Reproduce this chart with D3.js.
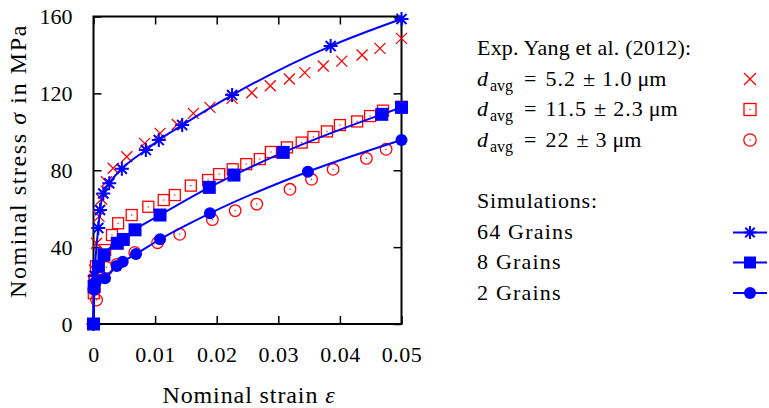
<!DOCTYPE html>
<html>
<head>
<meta charset="utf-8">
<script src="https://cdn.jsdelivr.net/npm/d3@7"></script>
<style>
  html, body { margin: 0; padding: 0; background: #fff; }
  svg text { font-family: "Liberation Serif", "DejaVu Serif", serif; fill: #000; }
</style>
</head>
<body>
<svg id="chart" width="769" height="408"></svg>
<script>
// Experimental data (Yang et al. 2012): nominal strain / nominal stress [MPa]
const expSmallStrain  = [0.0002, 0.0005, 0.0009, 0.0013, 0.0021, 0.0032, 0.0054, 0.0083, 0.0108, 0.0136, 0.0162, 0.0189, 0.0225, 0.0257, 0.0287, 0.0318, 0.0343, 0.0373, 0.0403, 0.0436, 0.0465, 0.05];
const expSmallStress  = [28, 42, 56, 65, 74, 81, 87, 94, 99.2, 103.8, 109.6, 112.7, 117.4, 120.3, 124, 127.5, 130.8, 134.2, 136.8, 140, 143.4, 148.6];

const expMediumStrain = [0.00005, 0.0002, 0.0004, 0.0019, 0.003, 0.004, 0.0062, 0.0089, 0.0114, 0.0132, 0.0158, 0.0186, 0.0204, 0.0226, 0.0248, 0.027, 0.0288, 0.0314, 0.0338, 0.0357, 0.0379, 0.04, 0.0428, 0.0449, 0.047, 0.05];
const expMediumStress = [16, 23, 30, 38.5, 46.3, 52.4, 56.7, 61, 64.5, 67.1, 72, 74.9, 78, 80.5, 83.2, 85.8, 89.5, 91.9, 94.4, 97.3, 100.2, 103.5, 105.4, 108.2, 111, 113];

const expLargeStrain  = [0.0005, 0.0001, 0.0002, 0.0021, 0.0038, 0.0067, 0.0104, 0.014, 0.0193, 0.023, 0.0265, 0.0319, 0.0354, 0.0389, 0.0443, 0.0475];
const expLargeStress  = [12.5, 18, 23.4, 29.5, 31, 37.2, 42.3, 46.7, 54.3, 59, 62.4, 70.1, 75.3, 80.5, 86.2, 90.9];

// Simulation results
const sim64Strain = [0, 0.0002, 0.00078, 0.00106, 0.00159, 0.00256, 0.0046, 0.0085, 0.0106, 0.0144, 0.0225, 0.0385, 0.05];
const sim64Stress = [0, 25, 49.9, 59.3, 67.9, 73.2, 80.8, 90.5, 95.7, 103.5, 119.1, 144.6, 158.7];

const sim8Strain  = [0, 0.0001, 0.0008, 0.0017, 0.00386, 0.00484, 0.00674, 0.0108, 0.0188, 0.0228, 0.0308, 0.0468, 0.05];
const sim8Stress  = [0, 19.5, 30, 36, 42, 44, 49, 56.7, 71.1, 77.5, 89.3, 109.1, 112.7];

const sim2Strain  = [0, 0.0001, 0.0004, 0.00187, 0.00377, 0.00474, 0.0069, 0.0108, 0.0189, 0.0348, 0.05];
const sim2Stress  = [0, 18, 22, 23.8, 30.2, 32.4, 36.4, 44.1, 57.6, 79.2, 95.7];

const xTicks = [0, 0.01, 0.02, 0.03, 0.04, 0.05];
const xTickLabels = ["0", "0.01", "0.02", "0.03", "0.04", "0.05"];
const yTicks = [0, 40, 80, 120, 160];

const RED = "#ff0000";
const BLUE = "#0000ff";

const svg = d3.select("#chart");
const plot = { left: 93.5, right: 401.5, top: 16.5, bottom: 324 };

const x = d3.scaleLinear().domain([0, 0.05]).range([plot.left, plot.right]);
const y = d3.scaleLinear().domain([0, 160]).range([plot.bottom, plot.top]);

const zip = (a, b) => a.map((v, i) => [v, b[i]]);

// ---------- axes ----------
const tickLen = 8;
const tickFont = 22;
const axisLayer = svg.append("g");

axisLayer.append("g")
  .attr("transform", `translate(0,${plot.bottom})`)
  .call(d3.axisBottom(x).tickValues(xTicks).tickFormat((d, i) => xTickLabels[i]).tickSizeInner(-tickLen).tickSizeOuter(0).tickPadding(22))
  .call(g => g.select(".domain").remove())
  .call(g => g.selectAll("line").attr("stroke", "#000").attr("stroke-width", 1.5))
  .call(g => g.selectAll("text").attr("font-size", tickFont).attr("font-family", "Liberation Serif").attr("letter-spacing", 0.5));

axisLayer.append("g")
  .attr("transform", `translate(0,${plot.top})`)
  .call(d3.axisTop(x).tickValues(xTicks).tickFormat("").tickSizeInner(-tickLen).tickSizeOuter(0))
  .call(g => g.select(".domain").remove())
  .call(g => g.selectAll("line").attr("stroke", "#000").attr("stroke-width", 1.5));

axisLayer.append("g")
  .attr("transform", `translate(${plot.left},0)`)
  .call(d3.axisLeft(y).tickValues(yTicks).tickSizeInner(-tickLen).tickSizeOuter(0).tickPadding(21))
  .call(g => g.select(".domain").remove())
  .call(g => g.selectAll("line").attr("stroke", "#000").attr("stroke-width", 1.5))
  .call(g => g.selectAll("text").attr("font-size", tickFont).attr("font-family", "Liberation Serif"));

axisLayer.append("g")
  .attr("transform", `translate(${plot.right},0)`)
  .call(d3.axisRight(y).tickValues(yTicks).tickFormat("").tickSizeInner(-tickLen).tickSizeOuter(0))
  .call(g => g.select(".domain").remove())
  .call(g => g.selectAll("line").attr("stroke", "#000").attr("stroke-width", 1.5));

axisLayer.append("rect")
  .attr("x", plot.left).attr("y", plot.top)
  .attr("width", plot.right - plot.left).attr("height", plot.bottom - plot.top)
  .attr("fill", "none").attr("stroke", "#000").attr("stroke-width", 2);

// axis titles
const xTitle = svg.append("text")
  .attr("x", 249).attr("y", 403)
  .attr("text-anchor", "middle").attr("font-size", 24).attr("letter-spacing", 0.9);
xTitle.append("tspan").text("Nominal strain ");
xTitle.append("tspan").attr("font-style", "italic").text("ε");

const yTitle = svg.append("text")
  .attr("transform", `translate(26,161) rotate(-90)`)
  .attr("text-anchor", "middle").attr("font-size", 24).attr("letter-spacing", 1.6);
yTitle.append("tspan").text("Nominal stress ");
yTitle.append("tspan").attr("font-style", "italic").text("σ");
yTitle.append("tspan").text(" in MPa");

// ---------- marker painters ----------
function crossMarker(g, cx, cy, s, color) {
  g.append("path")
    .attr("d", `M${cx - s},${cy - s}L${cx + s},${cy + s}M${cx - s},${cy + s}L${cx + s},${cy - s}`)
    .attr("stroke", color).attr("stroke-width", 1.3).attr("fill", "none");
}
function boxDotMarker(g, cx, cy, s, color) {
  g.append("rect").attr("x", cx - s).attr("y", cy - s).attr("width", 2 * s).attr("height", 2 * s)
    .attr("fill", "none").attr("stroke", color).attr("stroke-width", 1.3);
  g.append("rect").attr("x", cx - 0.6).attr("y", cy - 0.6).attr("width", 1.2).attr("height", 1.2).attr("fill", color);
}
function circleDotMarker(g, cx, cy, r, color) {
  g.append("circle").attr("cx", cx).attr("cy", cy).attr("r", r)
    .attr("fill", "none").attr("stroke", color).attr("stroke-width", 1.3);
  g.append("rect").attr("x", cx - 0.6).attr("y", cy - 0.6).attr("width", 1.2).attr("height", 1.2).attr("fill", color);
}
function starMarker(g, cx, cy, s, color) {
  const d = s * 0.72;
  g.append("path")
    .attr("d", `M${cx - s},${cy}L${cx + s},${cy}M${cx},${cy - s}L${cx},${cy + s}` +
               `M${cx - d},${cy - d}L${cx + d},${cy + d}M${cx - d},${cy + d}L${cx + d},${cy - d}`)
    .attr("stroke", color).attr("stroke-width", 2).attr("fill", "none");
}
function squareMarker(g, cx, cy, s, color) {
  g.append("rect").attr("x", cx - s).attr("y", cy - s).attr("width", 2 * s).attr("height", 2 * s).attr("fill", color);
}
function dotMarker(g, cx, cy, r, color) {
  g.append("circle").attr("cx", cx).attr("cy", cy).attr("r", r).attr("fill", color);
}

// ---------- experimental markers ----------
const expLayer = svg.append("g");
zip(expSmallStrain, expSmallStress).forEach(([e, s]) => crossMarker(expLayer, x(e), y(s), 5.5, RED));
zip(expMediumStrain, expMediumStress).forEach(([e, s]) => boxDotMarker(expLayer, x(e), y(s), 5.5, RED));
zip(expLargeStrain, expLargeStress).forEach(([e, s]) => circleDotMarker(expLayer, x(e), y(s), 5.8, RED));

// ---------- simulation curves ----------
const line = d3.line().x(d => x(d[0])).y(d => y(d[1])).curve(d3.curveMonotoneX);
const simLayer = svg.append("g");
const sims = [
  { pts: zip(sim64Strain, sim64Stress), mark: (g, cx, cy) => starMarker(g, cx, cy, 7, BLUE) },
  { pts: zip(sim8Strain, sim8Stress),   mark: (g, cx, cy) => squareMarker(g, cx, cy, 6.5, BLUE) },
  { pts: zip(sim2Strain, sim2Stress),   mark: (g, cx, cy) => dotMarker(g, cx, cy, 6, BLUE) }
];
sims.forEach(sim => {
  simLayer.append("path").datum(sim.pts).attr("d", line)
    .attr("fill", "none").attr("stroke", BLUE).attr("stroke-width", 2);
});
sims.forEach(sim => sim.pts.forEach(([e, s]) => sim.mark(simLayer, x(e), y(s))));

// ---------- legend ----------
const legend = svg.append("g");
const lx = 477, markX = 750;
const fs = 22;

legend.append("text").attr("x", lx).attr("y", 55).attr("font-size", fs).attr("letter-spacing", 0.2)
  .text("Exp. Yang et al. (2012):");

// math entries: d_avg = value ± error μm, laid out piece by piece with TeX-like gaps
const expRows = [
  { value: "5.2",  err: "1.0", y: 85.5, mark: (g, cy) => crossMarker(g, markX, cy, 6, RED) },
  { value: "11.5", err: "2.3", y: 116,  mark: (g, cy) => boxDotMarker(g, markX, cy, 6, RED) },
  { value: "22",   err: "3",   y: 146.5, mark: (g, cy) => circleDotMarker(g, markX, cy, 6.2, RED) }
];
expRows.forEach(r => {
  const row = legend.append("g");
  row.append("text").attr("x", lx).attr("y", r.y).attr("font-size", fs).attr("font-style", "italic").text("d");
  row.append("text").attr("x", 490).attr("y", r.y + 5).attr("font-size", 16).text("avg");
  const pieces = [[" =", 0], [r.value, 9], ["±", 7], [r.err, 7], ["μm", 5]];
  let cursor = 524;
  pieces.forEach(([txt, gap]) => {
    cursor += gap;
    const t = row.append("text").attr("x", cursor).attr("y", r.y).attr("font-size", fs)
      .attr("letter-spacing", /\d/.test(txt) ? 1 : 0).text(txt.trim());
    cursor += t.node().getComputedTextLength();
  });
  r.mark(legend, r.y - 6.5);
});

legend.append("text").attr("x", lx).attr("y", 208).attr("font-size", fs).attr("letter-spacing", 0.8)
  .text("Simulations:");

const simRows = [
  { txt: "64 Grains", y: 239, mark: (g, cy) => starMarker(g, markX, cy, 6.5, BLUE) },
  { txt: "8 Grains",  y: 269, mark: (g, cy) => squareMarker(g, markX, cy, 6, BLUE) },
  { txt: "2 Grains",  y: 299.5, mark: (g, cy) => dotMarker(g, markX, cy, 6, BLUE) }
];
simRows.forEach(r => {
  legend.append("text").attr("x", lx).attr("y", r.y).attr("font-size", fs).attr("letter-spacing", 1.2).text(r.txt);
  const cy = r.y - 6.5;
  legend.append("line").attr("x1", 733).attr("x2", 767).attr("y1", cy).attr("y2", cy)
    .attr("stroke", BLUE).attr("stroke-width", 2);
  r.mark(legend, cy);
});
</script>
</body>
</html>
